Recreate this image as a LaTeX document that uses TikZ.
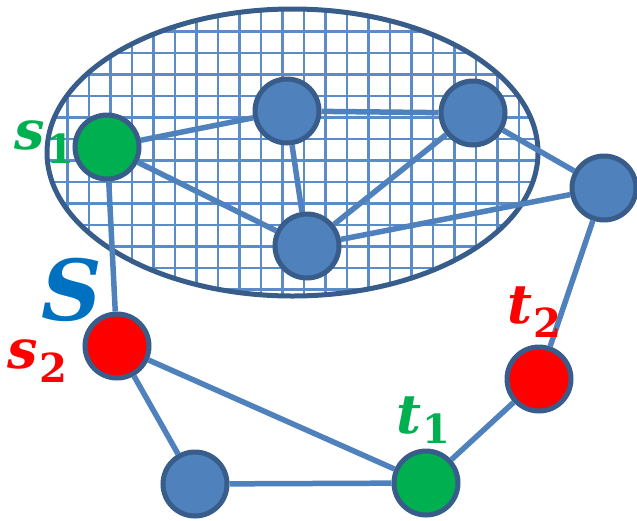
\documentclass[tikz,border=0pt]{standalone}
\usepackage{fontspec}
\newfontfamily\labfont{DejaVu Serif}
\definecolor{nodeblue}{HTML}{4F81BD}
\definecolor{edgeblue}{HTML}{4F81BD}
\definecolor{gridblue}{HTML}{5B8CC8}
\definecolor{darkrim}{HTML}{385D8A}
\definecolor{mygreen}{HTML}{00B050}
\definecolor{myred}{HTML}{FF0000}
\definecolor{bigS}{HTML}{0070C0}
\newcommand\lab[3]{{\labfont\bfseries\itshape\fontsize{54}{54}\selectfont #1}\hspace{2pt}\raisebox{-#3pt}{\labfont\bfseries\fontsize{40}{40}\selectfont #2}}
\tikzset{
  vert/.style={circle, draw=darkrim, line width=5pt, minimum size=64pt, inner sep=0pt, fill=#1},
  edge/.style={draw=edgeblue, line width=5.5pt},
  labnode/.style={anchor=base west, inner sep=0pt, outer sep=0pt}
}
\begin{document}
\begin{tikzpicture}[x=1pt,y=-1pt]
\useasboundingbox (0,0) rectangle (637,520);
% grid inside the set S
\begin{scope}
  \clip (292.5,152.5) ellipse [x radius=245.5, y radius=143.5];
  \fill[white] (292.5,152.5) ellipse [x radius=245.5, y radius=143.5];
  \foreach \k in {0,...,23} {\draw[gridblue, line width=2.8pt] (46+21.5*\k,0) -- (46+21.5*\k,310);}
  \foreach \k in {0,...,13} {\draw[gridblue, line width=2.8pt] (40,10+21.5*\k) -- (545,10+21.5*\k);}
\end{scope}
\draw[darkrim, line width=5pt] (292.5,152.5) ellipse [x radius=245.5, y radius=143.5];
% vertices
\node[vert=mygreen] (s1) at (107,147) {};
\node[vert=nodeblue] (a) at (287,111) {};
\node[vert=nodeblue] (b) at (473,113) {};
\node[vert=nodeblue] (c) at (307,246) {};
\node[vert=nodeblue] (d) at (604,188) {};
\node[vert=myred] (s2) at (117,346) {};
\node[vert=nodeblue] (e) at (195,484) {};
\node[vert=mygreen] (t1) at (426,483) {};
\node[vert=myred] (t2) at (539,379) {};
% edges
\foreach \u/\v in {s1/a, s1/c, a/c, a/b, b/c, b/d, c/d, s1/s2, s2/e, s2/t1, e/t1, t1/t2, t2/d}
  {\draw[edge] (\u) -- (\v);}
% labels
\node[labnode, text=mygreen] (ls1) at (14,149) {\lab{s}{1}{14}};
\node[labnode, text=bigS] (lS) at (41,320) {\labfont\bfseries\itshape\fontsize{84}{84}\selectfont S};
\node[labnode, text=myred] (ls2) at (7,368) {\lab{s}{2}{14}};
\node[labnode, text=mygreen] (lt1) at (396,433) {\lab{t}{1}{10}};
\node[labnode, text=myred] (lt2) at (507,323) {\lab{t}{2}{14}};
\end{tikzpicture}
\end{document}
